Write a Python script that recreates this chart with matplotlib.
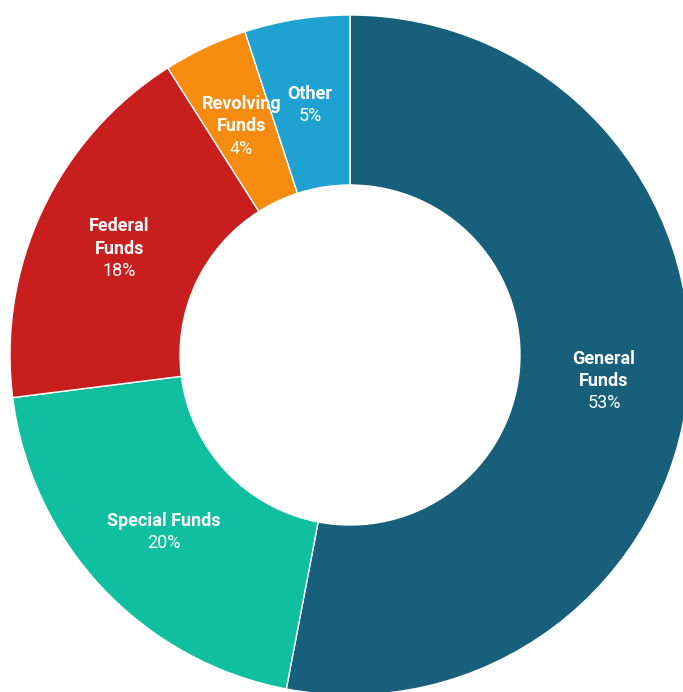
import numpy as np
import matplotlib
matplotlib.use("Agg")
import matplotlib.pyplot as plt

# datos del grafico (sentido horario desde arriba)
nombres = ["General\nFunds", "Special Funds", "Federal\nFunds", "Revolving\nFunds", "Other"]
valores = [53, 20, 18, 4, 5]
colores = ["#175f7a", "#10bf9f", "#c81e1e", "#f68c0f", "#1fa2d2"]

plt.rcParams["font.family"] = ["Roboto", "DejaVu Sans"]

fig = plt.figure(figsize=(6.83, 6.92), dpi=100)
ax = fig.add_axes([0, 0, 1, 1])

wedges, _ = ax.pie(valores, colors=colores, startangle=90, counterclock=False,
                   radius=1.0, wedgeprops=dict(width=0.5, edgecolor="white", linewidth=1))

# el circulo se sale un poco por la derecha y por abajo
R = 340.0
ax.set_xlim(-350 / R, 333 / R)
ax.set_ylim(-337 / R, 355 / R)
ax.set_aspect("equal")
ax.axis("off")

total = sum(valores)
inicio = 90.0
for nombre, v in zip(nombres, valores):
    ang = np.deg2rad(inicio - v / total * 360 / 2)
    inicio -= v / total * 360
    x, y = 0.75 * np.cos(ang), 0.75 * np.sin(ang)
    lineas = nombre.split("\n") + [f"{v}%"]
    n = len(lineas)
    L = 16
    for i, t in enumerate(lineas):
        off = ((n - 1) / 2 - i) * L - 1.5
        ax.annotate(t, (x, y), xytext=(0, off), textcoords="offset points",
                    ha="center", va="center", color="white", fontsize=13,
                    fontweight="bold" if i < n - 1 else "normal")

fig.savefig("out.png", dpi=100)
